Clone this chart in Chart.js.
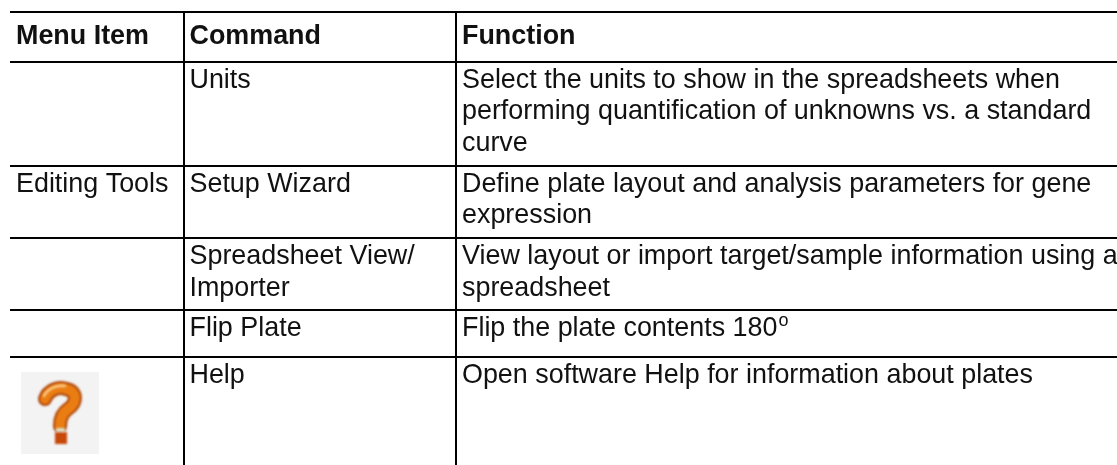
<!DOCTYPE html>
<html>
<head>
<meta charset="utf-8">
<script src="https://cdn.jsdelivr.net/npm/chart.js@4"></script>
<style>
    html, body { margin: 0; padding: 0; background: #fff; }
    canvas { display: block; }
</style>
</head>
<body>
<canvas id="tableChart" width="1117" height="465"></canvas>
<script>
// Table content
const headers = ['Menu Item', 'Command', 'Function'];
const menuItems = [[], ['Editing Tools'], [], [], []];
const commands = [['Units'], ['Setup Wizard'], ['Spreadsheet View/', 'Importer'], ['Flip Plate'], ['Help']];
const functions = [
    ['Select the units to show in the spreadsheets when', 'performing quantification of unknowns vs. a standard', 'curve'],
    ['Define plate layout and analysis parameters for gene', 'expression'],
    ['View layout or import target/sample information using a', 'spreadsheet'],
    ['Flip the plate contents 180^o'],
    ['Open software Help for information about plates']
];

// Rules of the table, in axis units
const columnEdges = [10, 183.5, 456];
const rowEdges = [12, 61.5, 165.5, 238, 310, 357];

const FONT = '"Liberation Sans", Arial, sans-serif';
const TEXT_SIZE = 26.9;
const LINE_GAP = 31.5;

// One dataset per column, one point per text line
function columnPoints(col, cells) {
    const points = [{ x: columnEdges[col], y: rowEdges[0], text: headers[col], bold: true }];
    cells.forEach((lines, row) => {
        lines.forEach((text, n) => {
            points.push({ x: columnEdges[col], y: rowEdges[row + 1], text: text, line: n });
        });
    });
    return points;
}

const cellText = {
    id: 'cellText',
    afterDatasetsDraw(chart) {
        const ctx = chart.ctx;
        ctx.save();
        ctx.fillStyle = '#111';
        ctx.textBaseline = 'alphabetic';
        ctx.filter = 'blur(0.3px)';
        chart.data.datasets.forEach((ds, i) => {
            chart.getDatasetMeta(i).data.forEach((el, j) => {
                const p = ds.data[j];
                const x = el.x + 6;
                const y = p.bold ? el.y + 32 : el.y + 26 + (p.line || 0) * LINE_GAP;
                ctx.font = (p.bold ? 'bold ' : '') + TEXT_SIZE + 'px ' + FONT;
                const parts = p.text.split('^');
                ctx.fillText(parts[0], x, y);
                if (parts[1]) {
                    const w = ctx.measureText(parts[0]).width;
                    ctx.font = '18px ' + FONT;
                    ctx.fillText(parts[1], x + w + 1, y - 10);
                }
            });
        });
        ctx.restore();
    }
};

// The orange question mark icon in the last row
const helpIcon = {
    id: 'helpIcon',
    afterDatasetsDraw(chart) {
        const ctx = chart.ctx;
        const x = chart.scales.x.getPixelForValue(21);
        const y = chart.scales.y.getPixelForValue(372);
        const hook = () => {
            ctx.beginPath();
            ctx.moveTo(x + 24, y + 27);
            ctx.bezierCurveTo(x + 27, y + 18, x + 38, y + 14, x + 45, y + 17);
            ctx.bezierCurveTo(x + 57, y + 19, x + 56, y + 31, x + 47, y + 37);
            ctx.bezierCurveTo(x + 41, y + 41, x + 39, y + 46, x + 39, y + 54);
        };
        ctx.save();
        ctx.fillStyle = '#f3f3f3';
        ctx.fillRect(x, y, 78, 82);
        ctx.filter = 'blur(0.8px)';
        ctx.lineCap = 'round';
        ctx.strokeStyle = '#b04a10';
        ctx.lineWidth = 14;
        hook();
        ctx.stroke();
        ctx.strokeStyle = '#ea7d12';
        ctx.lineWidth = 10;
        hook();
        ctx.stroke();
        ctx.strokeStyle = '#fbcf8e';
        ctx.lineWidth = 2.5;
        ctx.beginPath();
        ctx.moveTo(x + 23, y + 24);
        ctx.bezierCurveTo(x + 27, y + 16, x + 36, y + 13, x + 44, y + 14);
        ctx.stroke();
        ctx.fillStyle = '#c8480a';
        ctx.fillRect(x + 34, y + 60, 12, 12);
        ctx.fillStyle = '#dcdcc8';
        ctx.fillRect(x + 35, y + 56, 9, 4);
        ctx.restore();
    }
};

new Chart(document.getElementById('tableChart'), {
    type: 'scatter',
    data: {
        datasets: [menuItems, commands, functions].map((cells, col) => ({
            label: headers[col],
            data: columnPoints(col, cells),
            pointRadius: 0,
            pointHoverRadius: 0
        }))
    },
    options: {
        responsive: false,
        animation: false,
        layout: { padding: { left: 10, top: 12, right: 0, bottom: 0 } },
        plugins: {
            legend: { display: false },
            tooltip: { enabled: false }
        },
        scales: {
            x: {
                type: 'linear',
                min: 10,
                max: 1117,
                border: { display: false },
                ticks: { display: false },
                grid: { color: '#000', lineWidth: 2, drawTicks: false },
                afterBuildTicks: axis => { axis.ticks = columnEdges.slice(1).map(v => ({ value: v })); }
            },
            y: {
                type: 'linear',
                reverse: true,
                min: 12,
                max: 465,
                border: { display: false },
                ticks: { display: false },
                grid: { color: '#000', lineWidth: 2, drawTicks: false },
                afterBuildTicks: axis => { axis.ticks = rowEdges.map(v => ({ value: v })); }
            }
        }
    },
    plugins: [cellText, helpIcon]
});
</script>
</body>
</html>
